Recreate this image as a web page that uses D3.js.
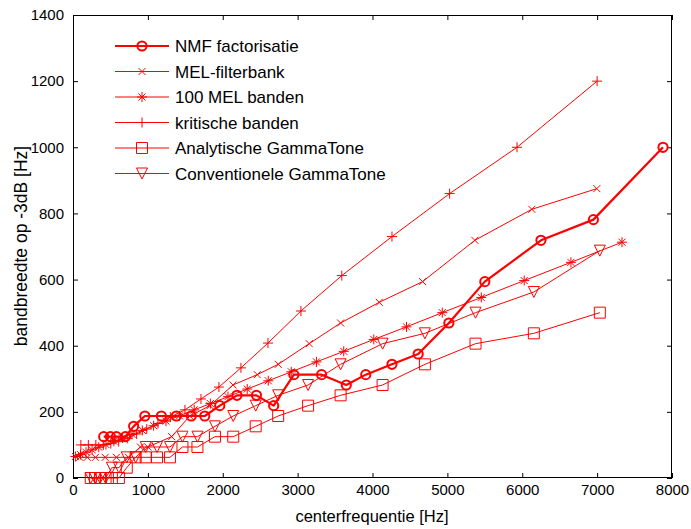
<!DOCTYPE html>
<html><head><meta charset="utf-8">
<script src="https://cdn.jsdelivr.net/npm/d3@7"></script>
<style>body{margin:0;background:#fff}svg{display:block}</style>
</head><body><svg id="c" width="691" height="529"></svg>
<script>
// ---- data ----
const xTicks = [0, 1000, 2000, 3000, 4000, 5000, 6000, 7000, 8000];
const yTicks = [0, 200, 400, 600, 800, 1000, 1200, 1400];
const seriesNames = ["NMF factorisatie", "MEL-filterbank", "100 MEL banden", "kritische banden", "Analytische GammaTone", "Conventionele GammaTone"];

const nmfFreq = [410, 500, 580, 700, 810, 960, 1180, 1380, 1580, 1760, 1960, 2190, 2450, 2680, 2950, 3320, 3650, 3910, 4260, 4610, 5020, 5500, 6250, 6950, 7880];
const nmfBw   = [125, 125, 125, 125, 156.25, 187.5, 187.5, 187.5, 187.5, 187.5, 218.75, 250, 250, 218.75, 312.5, 312.5, 281.25, 312.5, 343.75, 375, 468.75, 593.75, 718.75, 781.25, 1000];

const melFreq = [90, 190, 300, 430, 580, 740, 900, 1000, 1317, 1560, 1830, 2136, 2461, 2741, 3155, 3574, 4090, 4669, 5367, 6128, 6996];
const melBw   = [62.5, 62.5, 62.5, 62.5, 62.5, 62.5, 93.75, 93.75, 125, 187.5, 218.75, 281.25, 312.5, 343.75, 406.25, 468.75, 531.25, 593.75, 718.75, 812.5, 875];

const mel100Freq = [32, 100, 174, 255, 344, 440, 546, 662, 788, 926, 1077, 1242, 1422, 1619, 1835, 2070, 2327, 2608, 2915, 3251, 3616, 4017, 4454, 4932, 5453, 6026, 6650, 7332];
const mel100Bw   = [65, 71, 78, 85, 93, 101, 111, 121, 132, 144, 158, 172, 188, 206, 225, 246, 269, 294, 321, 351, 383, 419, 457, 500, 546, 597, 652, 713];

const critFreq = [105, 205, 305, 405, 505, 610, 725, 850, 985, 1135, 1300, 1495, 1709, 1949, 2243, 2604, 3044, 3590, 4260, 5030, 5930, 7000];
const critBw   = [100, 100, 100, 100, 104, 110, 120, 133, 148, 165, 184, 206, 239, 275, 333, 408, 505, 612, 730, 860, 1000, 1200];

const gtFreq = [237, 295, 361, 435, 519, 613, 718, 837, 971, 1122, 1295, 1462, 1662, 1896, 2140, 2440, 2740, 3140, 3574, 4135, 4700, 5376, 6155, 7036];
const gtAnaBw  = [0, 0, 0, 0, 0, 0, 31.25, 62.5, 62.5, 62.5, 62.5, 93.75, 93.75, 125, 125, 156.25, 187.5, 218.75, 250, 281.25, 343.75, 406.25, 437.5, 500];
const gtConvBw = [0, 0, 0, 0, 31.25, 31.25, 62.5, 62.5, 93.75, 93.75, 93.75, 125, 125, 156.25, 187.5, 218.75, 250, 281.25, 343.75, 406.25, 437.5, 500, 562.5, 687.5];

// ---- chart ----
const RED = "#ff0000";
const svg = d3.select("#c");
const x = d3.scaleLinear().domain([0, 8000]).range([73, 672]);
const y = d3.scaleLinear().domain([0, 1400]).range([478, 15]);

const zip = (a, b) => a.map((v, i) => [v, b[i]]);
const series = [
  {name: seriesNames[0], data: zip(nmfFreq, nmfBw), marker: "o", lw: 2.2},
  {name: seriesNames[1], data: zip(melFreq, melBw), marker: "x", lw: 1},
  {name: seriesNames[2], data: zip(mel100Freq, mel100Bw), marker: "*", lw: 1},
  {name: seriesNames[3], data: zip(critFreq, critBw), marker: "+", lw: 1},
  {name: seriesNames[4], data: zip(gtFreq, gtAnaBw), marker: "s", lw: 1},
  {name: seriesNames[5], data: zip(gtFreq, gtConvBw), marker: "v", lw: 1}
];

function markerPath(m) {
  switch (m) {
    case "x": { const s = 3.5; return `M${-s},${-s}L${s},${s}M${-s},${s}L${s},${-s}`; }
    case "+": { const s = 5; return `M${-s},0H${s}M0,${-s}V${s}`; }
    case "*": { const s = 5, t = 3.5; return `M${-s},0H${s}M0,${-s}V${s}M${-t},${-t}L${t},${t}M${-t},${t}L${t},${-t}`; }
    case "s": { const s = 5.5; return `M${-s},${-s}H${s}V${s}H${-s}Z`; }
    case "v": { const s = 5.5; return `M${-s},${-s}H${s}L0,${s}Z`; }
    case "o": { const r = 4.6; return `M${r},0A${r},${r} 0 1,1 ${-r},0A${r},${r} 0 1,1 ${r},0Z`; }
  }
}

// frame
svg.append("rect").attr("x", 73.5).attr("y", 15.5).attr("width", 598).attr("height", 462)
  .attr("fill", "#fff").attr("stroke", "#000").attr("stroke-width", 1);

const fontTick = "Liberation Sans, Arial, sans-serif";
function styleAxis(g, showLabels) {
  g.select(".domain").remove();
  g.selectAll(".tick line").attr("stroke", "#000");
  g.selectAll(".tick text").attr("fill", "#000").style("font-family", fontTick).style("font-size", "15px");
  if (!showLabels) g.selectAll(".tick text").remove();
}
svg.append("g").attr("transform", "translate(0,478)")
  .call(d3.axisBottom(x).tickValues(xTicks).tickFormat(d3.format("d")).tickSize(-5).tickPadding(6))
  .call(g => styleAxis(g, true));
svg.append("g").attr("transform", "translate(0,15)")
  .call(d3.axisTop(x).tickValues(xTicks).tickSize(-5))
  .call(g => styleAxis(g, false));
svg.append("g").attr("transform", "translate(73,0)")
  .call(d3.axisLeft(y).tickValues(yTicks).tickFormat(d3.format("d")).tickSize(-5).tickPadding(9))
  .call(g => styleAxis(g, true));
svg.append("g").attr("transform", "translate(672,0)")
  .call(d3.axisRight(y).tickValues(yTicks).tickSize(-5))
  .call(g => styleAxis(g, false));

// axis labels
svg.append("text").attr("x", 372).attr("y", 522).attr("text-anchor", "middle")
  .style("font-family", fontTick).style("font-size", "16.5px").text("centerfrequentie [Hz]");
svg.append("text").attr("transform", "translate(27,246) rotate(-90)").attr("text-anchor", "middle")
  .style("font-family", fontTick).style("font-size", "17.5px").text("bandbreedte op -3dB [Hz]");

// series
const line = d3.line().x(d => x(d[0])).y(d => y(d[1]));
const plot = svg.append("g");
series.forEach(s => {
  plot.append("path").datum(s.data).attr("d", line)
    .attr("fill", "none").attr("stroke", RED).attr("stroke-width", s.lw).attr("stroke-linejoin", "round");
  plot.selectAll(null).data(s.data).enter().append("path")
    .attr("transform", d => `translate(${x(d[0])},${y(d[1])})`)
    .attr("d", markerPath(s.marker))
    .attr("fill", "none").attr("stroke", RED).attr("stroke-width", s.marker === "o" ? 2 : 1);
});

// legend
const leg = svg.append("g");
series.forEach((s, i) => {
  const cy = 46 + i * 25.5;
  leg.append("line").attr("x1", 115).attr("x2", 169).attr("y1", cy).attr("y2", cy)
    .attr("stroke", RED).attr("stroke-width", s.lw);
  leg.append("path").attr("transform", `translate(142,${cy})`).attr("d", markerPath(s.marker))
    .attr("fill", "none").attr("stroke", RED).attr("stroke-width", s.marker === "o" ? 2 : 1);
  leg.append("text").attr("x", 175).attr("y", cy).attr("dy", "0.36em")
    .style("font-family", fontTick).style("font-size", "17px").attr("fill", "#000").text(s.name);
});
</script>
</body></html>
